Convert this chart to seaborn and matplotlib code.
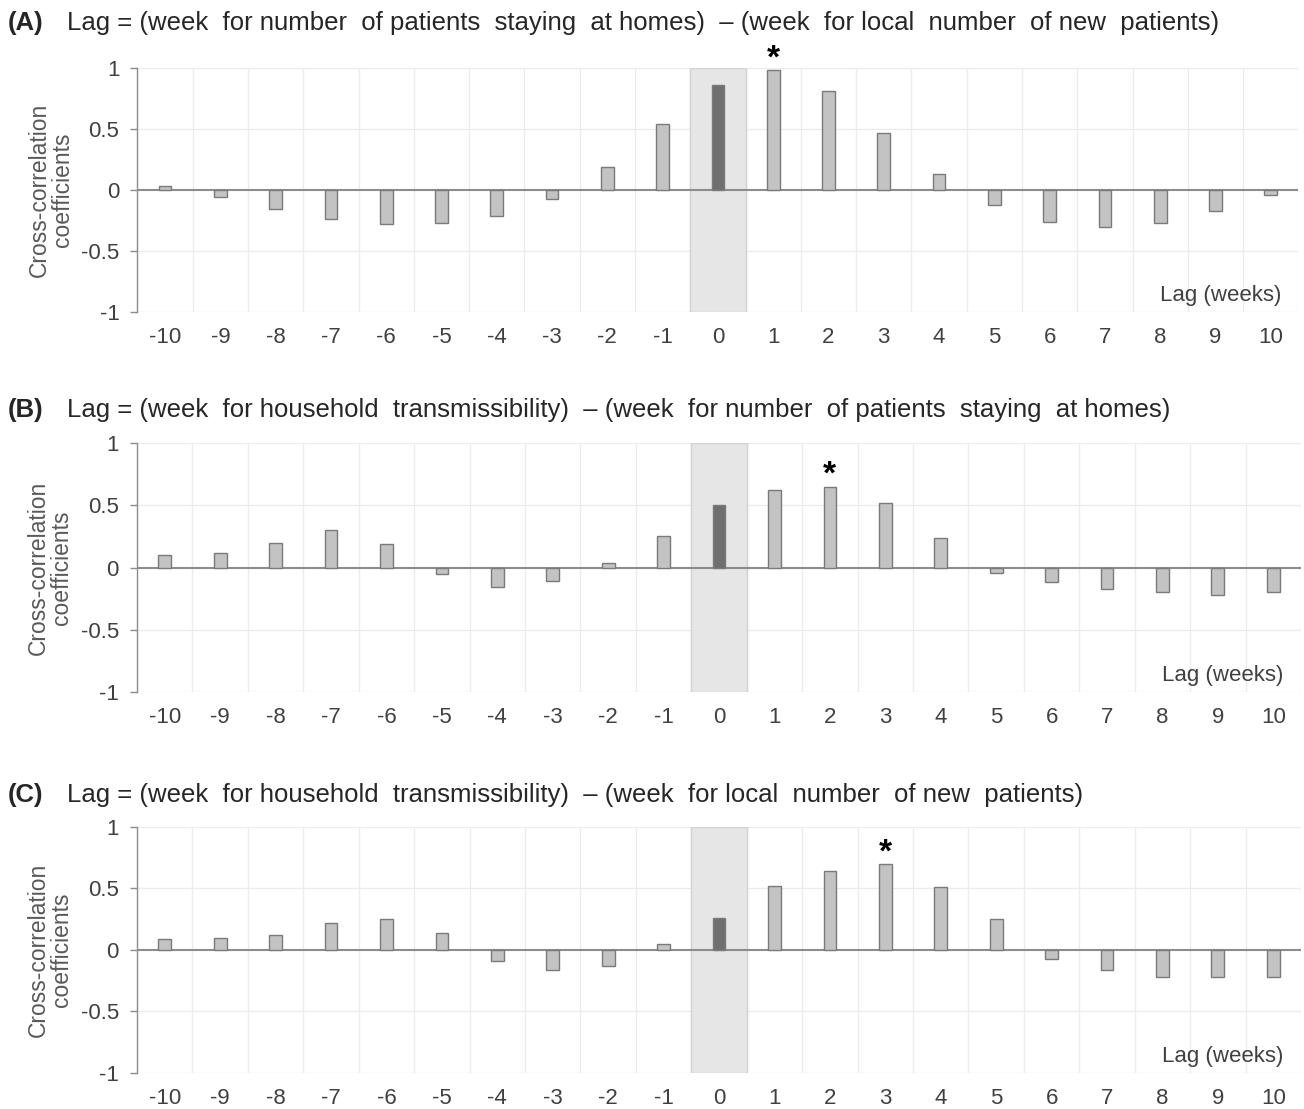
import pandas as pd
import matplotlib
matplotlib.use("Agg")
import matplotlib.pyplot as plt
import seaborn as sns

lags = list(range(-10, 11))

coef_a = [0.03, -0.055, -0.16, -0.24, -0.28, -0.27, -0.21, -0.07, 0.19, 0.54,
          0.86, 0.98, 0.81, 0.47, 0.13, -0.12, -0.26, -0.30, -0.27, -0.17, -0.045]
coef_b = [0.10, 0.12, 0.20, 0.30, 0.19, -0.05, -0.16, -0.11, 0.04, 0.25,
          0.50, 0.62, 0.65, 0.52, 0.24, -0.04, -0.12, -0.17, -0.20, -0.22, -0.20]
coef_c = [0.09, 0.10, 0.12, 0.22, 0.25, 0.14, -0.09, -0.16, -0.13, 0.05,
          0.26, 0.52, 0.64, 0.70, 0.51, 0.25, -0.07, -0.16, -0.22, -0.22, -0.22]

panel_tags = ["(A)", "(B)", "(C)"]
panel_titles = [
    "Lag = (week  for number  of patients  staying  at homes)  \u2013 (week  for local  number  of new  patients)",
    "Lag = (week  for household  transmissibility)  \u2013 (week  for number  of patients  staying  at homes)",
    "Lag = (week  for household  transmissibility)  \u2013 (week  for local  number  of new  patients)",
]
star_lags = [1, 2, 3]
ytick_vals = [-1, -0.5, 0, 0.5, 1]
ytick_text = ["-1", "-0.5", "0", "0.5", "1"]

sns.set_style("white")
plt.rcParams["font.family"] = ["Liberation Sans", "DejaVu Sans"]
plt.rcParams["axes.unicode_minus"] = False

fig = plt.figure(figsize=(13.04, 11.09), dpi=100)

# axes boxes in figure fractions (left, bottom, width, height)
boxes = [
    (0.1054, 0.7187, 0.8903, 0.2200),
    (0.1051, 0.3760, 0.8926, 0.2245),
    (0.1051, 0.0325, 0.8926, 0.2218),
]
title_y = [0.979, 0.630, 0.283]

light = "#c3c3c3"
dark = "#6f6f6f"
edge = "#7a7a7a"
grid_c = "#ececec"
axis_c = "#8c8c8c"
text_c = "#404040"

for i, coefs in enumerate([coef_a, coef_b, coef_c]):
    ax = fig.add_axes(boxes[i])
    df = pd.DataFrame({"lag": [str(l) for l in lags], "coef": coefs})
    pal = {str(l): (dark if l == 0 else light) for l in lags}

    # grid
    for y in [-1, -0.5, 0.5, 1]:
        ax.axhline(y, color=grid_c, lw=1, zorder=0)
    for k in range(len(lags)):
        ax.axvline(k + 0.5, color=grid_c, lw=1, zorder=0)

    zero_idx = lags.index(0)
    ax.axvspan(zero_idx - 0.5, zero_idx + 0.5, facecolor="#e6e6e6",
               edgecolor="#d2d2d2", lw=1, zorder=0.5)
    ax.axhline(0, color=axis_c, lw=1.5, zorder=2)

    sns.barplot(data=df, x="lag", y="coef", hue="lag", palette=pal,
                order=[str(l) for l in lags], width=0.23, edgecolor=edge,
                linewidth=1, legend=False, zorder=3, ax=ax)

    s_idx = lags.index(star_lags[i])
    ax.text(s_idx, coefs[s_idx] + 0.09, "*", ha="center", va="center",
            fontsize=24, fontweight="bold", color="black", clip_on=False)

    ax.set_xlim(-0.5, len(lags) - 0.5)
    ax.set_ylim(-1, 1)
    ax.set_yticks(ytick_vals)
    ax.set_yticklabels(ytick_text)
    ax.set_xticks(range(len(lags)))
    ax.set_xticklabels([str(l) for l in lags])
    ax.tick_params(axis="x", length=0, pad=11, labelsize=16, labelcolor=text_c)
    ax.tick_params(axis="y", length=5, width=1, color=axis_c, direction="out",
                   pad=8, labelsize=16, labelcolor=text_c, left=True)
    for side in ["top", "right", "bottom"]:
        ax.spines[side].set_visible(False)
    ax.spines["left"].set_color(axis_c)
    ax.spines["left"].set_linewidth(1)

    ax.set_xlabel("")
    ax.set_ylabel("Cross-correlation\ncoefficients", fontsize=16.5,
                  color="#595959", linespacing=1.0)
    ax.yaxis.set_label_coords(-0.055, 0.5)

    ax.text(0.985, 0.066, "Lag (weeks)", transform=ax.transAxes, ha="right",
            va="center", fontsize=16, color=text_c)

    fig.text(0.006, title_y[i], panel_tags[i], fontsize=18.5, fontweight="bold",
             color="#262626", va="center", ha="left")
    fig.text(0.051, title_y[i], panel_titles[i], fontsize=18.5,
             color="#262626", va="center", ha="left")

fig.savefig("out.png", dpi=100)
